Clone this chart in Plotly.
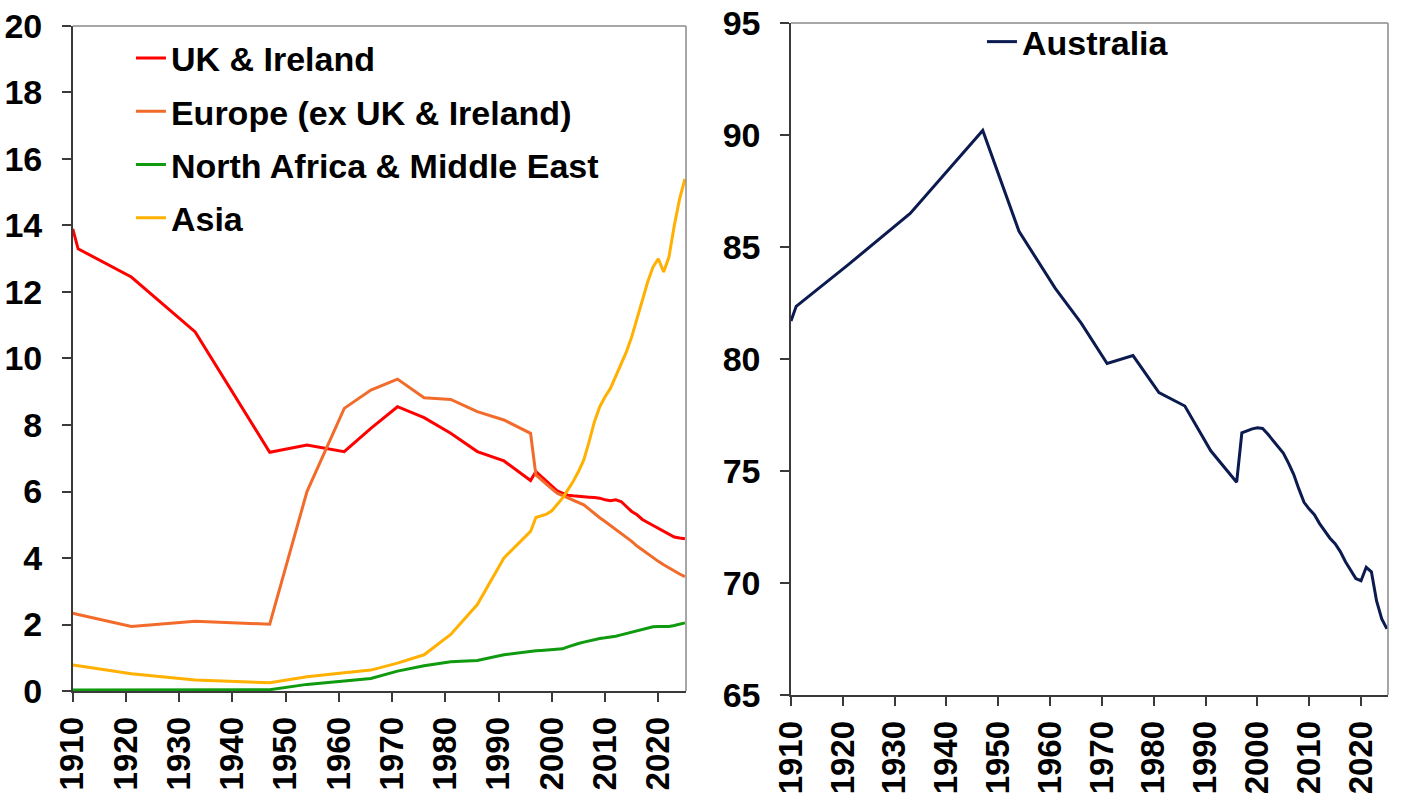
import plotly.graph_objects as go

# anos: censos até 1996, depois anual
years = [1910, 1911, 1921, 1933, 1947, 1954, 1961, 1966, 1971, 1976, 1981, 1986, 1991, 1996,
         1997, 1998, 1999, 2000, 2001, 2002, 2003, 2004, 2005, 2006, 2007, 2008, 2009, 2010,
         2011, 2012, 2013, 2014, 2015, 2016, 2017, 2018, 2019, 2020, 2021, 2022, 2023, 2024, 2025]

uk_ireland = [13.9, 13.3, 12.45, 10.8, 7.18, 7.4, 7.2, 7.9, 8.55, 8.22, 7.75, 7.2, 6.92, 6.33,
              6.6, 6.45, 6.3, 6.15, 6.02, 5.95, 5.89, 5.87, 5.85, 5.84, 5.83, 5.82, 5.8, 5.75,
              5.72, 5.75, 5.7, 5.55, 5.4, 5.3, 5.16, 5.07, 4.98, 4.9, 4.8, 4.7, 4.63, 4.6, 4.58]

europe = [2.34, 2.3, 1.94, 2.1, 2.01, 6.0, 8.5, 9.05, 9.38, 8.82, 8.77, 8.4, 8.15, 7.75,
          6.5, 6.35, 6.22, 6.08, 5.95, 5.88, 5.82, 5.75, 5.68, 5.6, 5.47, 5.33, 5.21, 5.1,
          4.98, 4.87, 4.76, 4.63, 4.5, 4.36, 4.24, 4.12, 4.0, 3.9, 3.8, 3.7, 3.6, 3.52, 3.44]

north_africa_me = [0.03, 0.03, 0.03, 0.03, 0.04, 0.2, 0.3, 0.38, 0.6, 0.76, 0.88, 0.92, 1.09, 1.2,
                   1.21, 1.22, 1.23, 1.24, 1.24, 1.27, 1.33, 1.39, 1.43, 1.47, 1.51, 1.55, 1.58, 1.6,
                   1.62, 1.65, 1.69, 1.73, 1.77, 1.81, 1.86, 1.9, 1.93, 1.94, 1.93, 1.94, 1.97, 2.01, 2.05]

asia = [0.78, 0.76, 0.52, 0.33, 0.25, 0.43, 0.55, 0.63, 0.84, 1.09, 1.7, 2.6, 4.0, 4.8,
        5.22, 5.27, 5.32, 5.42, 5.6, 5.8, 6.05, 6.3, 6.6, 6.95, 7.5, 8.1, 8.55, 8.85,
        9.1, 9.45, 9.8, 10.2, 10.65, 11.2, 11.75, 12.3, 12.75, 13.0, 12.6, 13.05, 14.0, 14.8, 15.4]

australia = [81.7, 82.35, 84.2, 86.5, 90.2, 85.7, 83.15, 81.6, 79.8, 80.15, 78.5, 77.9, 75.9, 74.5,
             76.7, 76.8, 76.88, 76.93, 76.9, 76.65, 76.35, 76.1, 75.8, 75.35, 74.85, 74.2, 73.6, 73.3,
             73.05, 72.65, 72.3, 72.0, 71.75, 71.4, 70.95, 70.55, 70.2, 70.1, 70.7, 70.5, 69.2, 68.4, 67.95]

year_ticks = [1910, 1920, 1930, 1940, 1950, 1960, 1970, 1980, 1990, 2000, 2010, 2020]

FONT = 'Liberation Sans, Arial, sans-serif'

left_series = [
    ('UK & Ireland', uk_ireland, '#FF0000'),
    ('Europe (ex UK & Ireland)', europe, '#F26B2B'),
    ('North Africa & Middle East', north_africa_me, '#109A10'),
    ('Asia', asia, '#FFB000'),
]

fig = go.Figure()

for name, values, color in left_series:
    fig.add_trace(go.Scatter(
        x=years, y=values, name=name, mode='lines',
        line=dict(color=color, width=3),
        legendgroup=name, legend='legend',
        xaxis='x', yaxis='y'
    ))

fig.add_trace(go.Scatter(
    x=years, y=australia, name='Australia', mode='lines',
    line=dict(color='#0B1A4F', width=3),
    legend='legend2', xaxis='x2', yaxis='y2'
))

axis_common = dict(
    showgrid=False, zeroline=False, automargin=False,
    showline=True, linecolor='#3A3A3A', linewidth=1.5,
    ticks='outside', ticklen=9, tickcolor='#3A3A3A', tickwidth=1.5,
    ticklabeloverflow='allow',
)
xfont = dict(family=FONT, size=33, color='black', weight='bold')
yfont = dict(family=FONT, size=34, color='black', weight='bold')
legend_font = dict(family=FONT, size=34, color='black', weight='bold')

fig.update_layout(
    width=1402, height=804,
    margin=dict(l=0, r=0, t=0, b=0, autoexpand=False),
    plot_bgcolor='white', paper_bgcolor='white',
    font=dict(family=FONT, color='black'),
    xaxis=dict(axis_common, domain=[0.0519, 0.4893], range=[1910, 2025.2], tickfont=xfont,
               tickvals=year_ticks, tickangle=-90, anchor='y', ticklabelstandoff=2),
    yaxis=dict(axis_common, domain=[0.1405, 0.9677], range=[0, 20], dtick=2, tickfont=yfont,
               anchor='x', ticklabelstandoff=13),
    xaxis2=dict(axis_common, domain=[0.5642, 0.990], range=[1910, 2025.2], tickfont=xfont,
                tickvals=year_ticks, tickangle=-90, anchor='y2', ticklabelstandoff=2),
    yaxis2=dict(axis_common, domain=[0.1356, 0.9714], range=[65, 95], dtick=5, tickfont=yfont,
                anchor='x2', ticklabelstandoff=13),
    legend=dict(
        x=0.0934, y=0.9633, xanchor='left', yanchor='top',
        bgcolor='rgba(0,0,0,0)', tracegroupgap=6, font=legend_font,
    ),
    legend2=dict(
        x=0.7004, y=0.9838, xanchor='left', yanchor='top',
        bgcolor='rgba(0,0,0,0)', font=legend_font,
    ),
    showlegend=True,
)

# moldura cinza no topo e à direita de cada painel
for xr, yr in (('x domain', 'y domain'), ('x2 domain', 'y2 domain')):
    fig.add_shape(type='line', xref=xr, yref=yr, x0=0, x1=1, y0=1, y1=1,
                  line=dict(color='#8A8A8A', width=1.5))
    fig.add_shape(type='line', xref=xr, yref=yr, x0=1, x1=1, y0=0, y1=1,
                  line=dict(color='#8A8A8A', width=1.5))

# tira a margem padrão do body para a figura ocupar a janela inteira
fig.write_html("out.html", config={'displayModeBar': False},
               post_script="document.body.style.margin='0px';")
